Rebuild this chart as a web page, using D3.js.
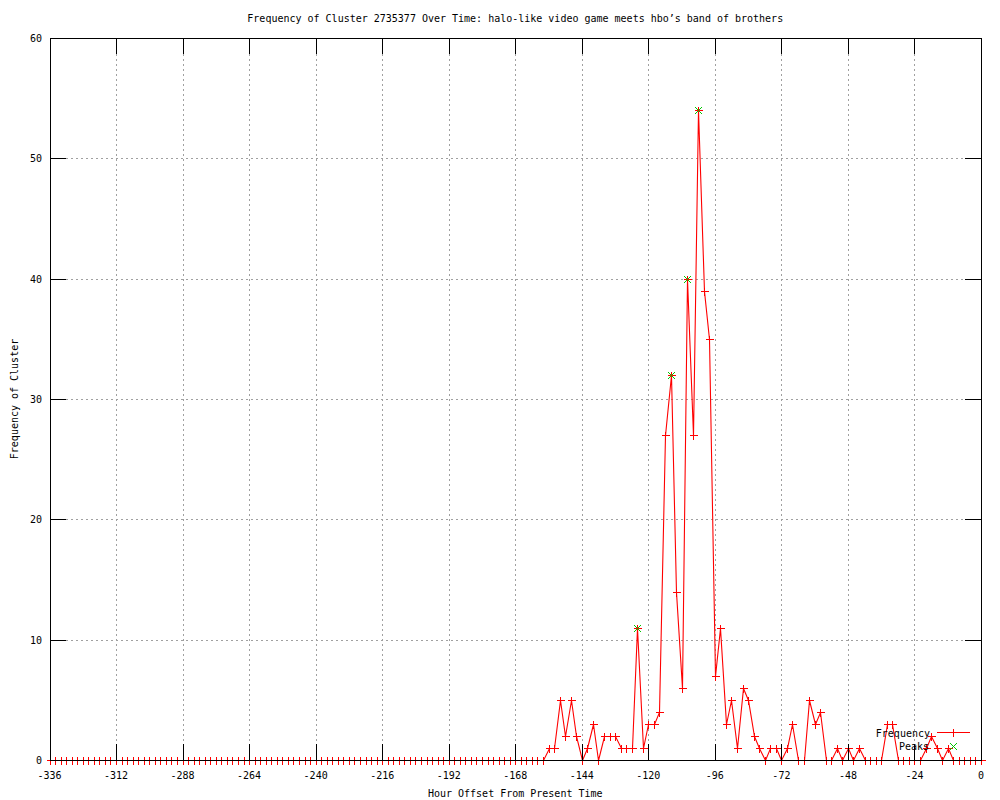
<!DOCTYPE html>
<html>
<head>
<meta charset="utf-8">
<script src="https://cdn.jsdelivr.net/npm/d3@7.9.0/dist/d3.min.js"></script>
<style>
  html, body { margin: 0; padding: 0; background: #fff; }
  svg { display: block; }
  text { font-family: "DejaVu Sans Mono", "Liberation Mono", monospace; font-size: 10px; fill: #000; }
</style>
</head>
<body>
<div id="chart"></div>
<script>
// ---------- Data ----------
const title = "Frequency of Cluster 2735377 Over Time: halo-like video game meets hbo\u2019s band of brothers";
const xLabel = "Hour Offset From Present Time";
const yLabel = "Frequency of Cluster";

// hour offsets (every 2 hours)
const hours = [
  -336, -334, -332, -330, -328, -326, -324, -322, -320, -318, -316, -314, -312, -310, -308, -306,
  -304, -302, -300, -298, -296, -294, -292, -290, -288, -286, -284, -282, -280, -278, -276, -274,
  -272, -270, -268, -266, -264, -262, -260, -258, -256, -254, -252, -250, -248, -246, -244, -242,
  -240, -238, -236, -234, -232, -230, -228, -226, -224, -222, -220, -218, -216, -214, -212, -210,
  -208, -206, -204, -202, -200, -198, -196, -194, -192, -190, -188, -186, -184, -182, -180, -178,
  -176, -174, -172, -170, -168, -166, -164, -162, -160, -158,
  -156, -154, -152, -150, -148, -146, -144, -142, -140, -138, -136, -134, -132, -130, -128, -126,
  -124, -122, -120, -118, -116, -114, -112, -110, -108, -106, -104, -102, -100, -98, -96, -94,
  -92, -90, -88, -86, -84, -82, -80, -78, -76, -74, -72, -70, -68, -66, -64, -62,
  -60, -58, -56, -54, -52, -50, -48, -46, -44, -42, -40, -38, -36, -34, -32, -30,
  -28, -26, -24, -22, -20, -18, -16, -14, -12, -10, -8, -6, -4, -2, 0
];

const frequency = [
  0, 0, 0, 0, 0, 0, 0, 0, 0, 0, 0, 0, 0, 0, 0, 0,
  0, 0, 0, 0, 0, 0, 0, 0, 0, 0, 0, 0, 0, 0, 0, 0,
  0, 0, 0, 0, 0, 0, 0, 0, 0, 0, 0, 0, 0, 0, 0, 0,
  0, 0, 0, 0, 0, 0, 0, 0, 0, 0, 0, 0, 0, 0, 0, 0,
  0, 0, 0, 0, 0, 0, 0, 0, 0, 0, 0, 0, 0, 0, 0, 0,
  0, 0, 0, 0, 0, 0, 0, 0, 0, 0,
  1, 1, 5, 2, 5, 2, 0, 1, 3, 0, 2, 2, 2, 1, 1, 1,
  11, 1, 3, 3, 4, 27, 32, 14, 6, 40, 27, 54, 39, 35, 7, 11,
  3, 5, 1, 6, 5, 2, 1, 0, 1, 1, 0, 1, 3, 0, 0, 5,
  3, 4, 0, 0, 1, 0, 1, 0, 1, 0, 0, 0, 0, 3, 3, 0,
  0, 0, 0, 0, 1, 2, 1, 0, 1, 0, 0, 0, 0, 0, 0
];

const peakHours = [-124, -112, -106, -102];
const peakValues = [11, 32, 40, 54];

const xTicks = [-336, -312, -288, -264, -240, -216, -192, -168, -144, -120, -96, -72, -48, -24, 0];
const yTicks = [0, 10, 20, 30, 40, 50, 60];

const legendNames = ["Frequency", "Peaks"];

// ---------- Chart ----------
const width = 1000;
const height = 800;
const plot = { left: 49.5, right: 981, top: 38, bottom: 760 };
const red = "#ff0000";
const green = "#00c800";
const tickLen = 16;

const svg = d3.select("#chart")
  .append("svg")
  .attr("width", width)
  .attr("height", height);

const x = d3.scaleLinear().domain([-336, 0]).range([plot.left, plot.right]);
const y = d3.scaleLinear().domain([0, 60]).range([plot.bottom, plot.top]);

const px = (v) => Math.round(v) + 0.5;

// grid
const grid = svg.append("g").attr("stroke", "#a0a0a0").attr("stroke-dasharray", "2,3")
  .attr("shape-rendering", "crispEdges");
grid.selectAll("line.gx")
  .data(xTicks.filter((d) => d !== -336 && d !== 0))
  .join("line")
  .attr("x1", (d) => px(x(d))).attr("x2", (d) => px(x(d)))
  .attr("y1", plot.top + tickLen).attr("y2", plot.bottom - tickLen);
grid.selectAll("line.gy")
  .data(yTicks.filter((d) => d !== 0 && d !== 60))
  .join("line")
  .attr("y1", (d) => px(y(d))).attr("y2", (d) => px(y(d)))
  .attr("x1", plot.left + tickLen).attr("x2", plot.right - tickLen);

// frequency series
const points = hours.map((h, i) => ({ h, v: frequency[i] }));
const line = d3.line().x((d) => px(x(d.h))).y((d) => px(y(d.v)));

const series = svg.append("g");
series.append("path")
  .datum(points)
  .attr("d", line)
  .attr("fill", "none")
  .attr("stroke", red)
  .attr("stroke-width", 1.1);

function plus(g, cx, cy, s, color) {
  g.append("path")
    .attr("d", `M${px(cx) - s},${px(cy)}H${px(cx) + s}M${px(cx)},${px(cy) - s}V${px(cy) + s}`)
    .attr("stroke", color)
    .attr("stroke-width", 1.1)
    .attr("shape-rendering", "crispEdges")
    .attr("fill", "none");
}
function cross(g, cx, cy, s, color) {
  g.append("path")
    .attr("d", `M${cx - s},${cy - s}L${cx + s},${cy + s}M${cx - s},${cy + s}L${cx + s},${cy - s}`)
    .attr("stroke", color)
    .attr("stroke-width", 1)
    .attr("fill", "none");
}

points.forEach((d) => plus(series, x(d.h), y(d.v), 4, red));

// peaks
const peaksG = svg.append("g");
peakHours.forEach((h, i) => cross(peaksG, px(x(h)), px(y(peakValues[i])), 3.5, green));

// border + ticks (drawn over data)
const frame = svg.append("g").attr("stroke", "#000").attr("fill", "none")
  .attr("shape-rendering", "crispEdges");
frame.append("rect")
  .attr("x", px(plot.left)).attr("y", px(plot.top))
  .attr("width", Math.round(plot.right) - Math.round(plot.left))
  .attr("height", Math.round(plot.bottom) - Math.round(plot.top));

xTicks.forEach((d) => {
  const xx = px(x(d));
  frame.append("line").attr("x1", xx).attr("x2", xx).attr("y1", plot.bottom).attr("y2", plot.bottom - tickLen);
  frame.append("line").attr("x1", xx).attr("x2", xx).attr("y1", plot.top).attr("y2", plot.top + tickLen);
});
yTicks.forEach((d) => {
  const yy = px(y(d));
  frame.append("line").attr("y1", yy).attr("y2", yy).attr("x1", plot.left).attr("x2", plot.left + tickLen);
  frame.append("line").attr("y1", yy).attr("y2", yy).attr("x1", plot.right).attr("x2", plot.right - tickLen);
});

// tick labels
svg.append("g").selectAll("text")
  .data(xTicks)
  .join("text")
  .attr("x", (d) => x(d))
  .attr("y", 779)
  .attr("text-anchor", "middle")
  .text((d) => String(d));

svg.append("g").selectAll("text")
  .data(yTicks)
  .join("text")
  .attr("x", 42)
  .attr("y", (d) => y(d) + 4)
  .attr("text-anchor", "end")
  .text((d) => String(d));

// titles
svg.append("text")
  .attr("x", (plot.left + plot.right) / 2)
  .attr("y", 22)
  .attr("text-anchor", "middle")
  .text(title);

svg.append("text")
  .attr("x", (plot.left + plot.right) / 2)
  .attr("y", 797)
  .attr("text-anchor", "middle")
  .text(xLabel);

svg.append("text")
  .attr("transform", `translate(18, ${(plot.top + plot.bottom) / 2}) rotate(-90)`)
  .attr("text-anchor", "middle")
  .text(yLabel);

// legend
const legend = svg.append("g");
legend.append("text").attr("x", 930).attr("y", 737).attr("text-anchor", "end").text(legendNames[0]);
legend.append("line")
  .attr("x1", 937).attr("x2", 970).attr("y1", 732.5).attr("y2", 732.5)
  .attr("stroke", red).attr("stroke-width", 1.1).attr("shape-rendering", "crispEdges");
plus(legend, 953, 732, 4, red);
legend.append("text").attr("x", 929).attr("y", 750).attr("text-anchor", "end").text(legendNames[1]);
cross(legend, 953.5, 746.5, 3.5, green);
</script>
</body>
</html>
